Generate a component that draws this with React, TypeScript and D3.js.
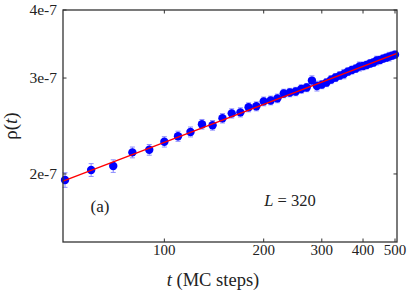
import React from "react";
import * as d3 from "d3";

const tValues = [50, 60, 70, 80, 90, 100, 110, 120, 130, 140, 150, 160, 170, 180, 190, 200, 210, 220, 230, 240, 250, 260, 270, 280, 290, 300, 310, 320, 330, 340, 350, 360, 370, 380, 390, 400, 410, 420, 430, 440, 450, 460, 470, 480, 490, 500];
const rhoValues = [1.950, 2.034, 2.068, 2.191, 2.215, 2.291, 2.346, 2.389, 2.468, 2.457, 2.531, 2.584, 2.595, 2.651, 2.662, 2.718, 2.729, 2.753, 2.811, 2.822, 2.834, 2.864, 2.882, 2.968, 2.900, 2.918, 2.943, 2.980, 3.006, 3.031, 3.051, 3.083, 3.103, 3.122, 3.150, 3.156, 3.170, 3.190, 3.203, 3.230, 3.237, 3.257, 3.270, 3.284, 3.298, 3.312].map((v) => v * 1e-7);
const rhoErrors = [0.06, 0.055, 0.055, 0.05, 0.05, 0.05, 0.05, 0.05, 0.05, 0.05, 0.05, 0.05, 0.05, 0.05, 0.05, 0.05, 0.05, 0.05, 0.05, 0.05, 0.05, 0.05, 0.05, 0.06, 0.06, 0.05, 0.05, 0.05, 0.05, 0.05, 0.06, 0.05, 0.05, 0.05, 0.06, 0.05, 0.05, 0.05, 0.05, 0.06, 0.05, 0.05, 0.05, 0.06, 0.05, 0.05].map((v) => v * 1e-7);
const fitT = [49.3, 507];
const fitRho = [1.94e-7, 3.33e-7];
const xTicks = [100, 200, 300, 400, 500];
const yTicks = [2e-7, 3e-7, 4e-7];
const yTickLabels = ["2e-7", "3e-7", "4e-7"];

const W = 415;
const H = 291;
const M = { left: 63, right: 397, top: 10, bottom: 242 };
const FONT = "Liberation Serif, Times New Roman, Times, DejaVu Serif, serif";

export default function App() {
  const x = d3.scaleLog().domain([49.3, 507]).range([M.left, M.right]);
  const y = d3.scaleLog().domain([1.5e-7, 4e-7]).range([M.bottom, M.top]);
  const line = d3
    .line<number>()
    .x((_, i) => x(fitT[i]))
    .y((d) => y(d));
  const tick = 3.5;
  const ts = { fontFamily: FONT };
  return (
    <svg width={W} height={H} style={{ position: "absolute", left: 0, top: 0, fontFamily: FONT }}>
      <rect x={0} y={0} width={W} height={H} fill="#fff" />
      <g stroke="#8c8cff" strokeWidth={1}>
        {tValues.map((t, i) => {
          const cx = x(t);
          const y1 = y(rhoValues[i] - rhoErrors[i]);
          const y2 = y(rhoValues[i] + rhoErrors[i]);
          return (
            <g key={i}>
              <line x1={cx} x2={cx} y1={y1} y2={y2} />
              <line x1={cx - 2.5} x2={cx + 2.5} y1={y1} y2={y1} />
              <line x1={cx - 2.5} x2={cx + 2.5} y1={y2} y2={y2} />
            </g>
          );
        })}
      </g>
      <g fill="#0000ff">
        {tValues.map((t, i) => (
          <circle key={i} cx={x(t)} cy={y(rhoValues[i])} r={4.2} />
        ))}
      </g>
      <path d={line(fitRho) || ""} fill="none" stroke="#ff0000" strokeWidth={1.4} />
      <rect x={M.left} y={M.top} width={M.right - M.left} height={M.bottom - M.top} fill="none" stroke="#333" strokeWidth={1.3} />
      <g stroke="#333" strokeWidth={1}>
        {xTicks.map((t) => (
          <g key={t}>
            <line x1={x(t)} x2={x(t)} y1={M.bottom} y2={M.bottom - tick} />
            <line x1={x(t)} x2={x(t)} y1={M.top} y2={M.top + tick} />
          </g>
        ))}
        {yTicks.map((v) => (
          <g key={v}>
            <line x1={M.left} x2={M.left + tick} y1={y(v)} y2={y(v)} />
            <line x1={M.right} x2={M.right - tick} y1={y(v)} y2={y(v)} />
          </g>
        ))}
      </g>
      <g fontSize={15} fill="#222" textAnchor="middle">
        {xTicks.map((t) => (
          <text key={t} x={x(t)} y={255} style={ts}>
            {t}
          </text>
        ))}
      </g>
      <g fontSize={15.5} fill="#222" textAnchor="end">
        {yTicks.map((v, i) => (
          <text key={v} x={M.left - 6} y={y(v)} dy="0.35em" style={ts}>
            {yTickLabels[i]}
          </text>
        ))}
      </g>
      <text x={213} y={286} fontSize={18.5} textAnchor="middle" fill="#222" style={ts}>
        <tspan fontStyle="italic">t</tspan> (MC steps)
      </text>
      <text transform={`translate(17, ${(M.top + M.bottom) / 2}) rotate(-90)`} fontSize={19} textAnchor="middle" fill="#222" style={ts}>
        ρ(<tspan fontStyle="italic">t</tspan>)
      </text>
      <text x={100} y={212} fontSize={17} textAnchor="middle" fill="#222" style={ts}>
        (a)
      </text>
      <text x={290} y={206} fontSize={16.5} textAnchor="middle" fill="#222" style={ts}>
        <tspan fontStyle="italic">L</tspan> = 320
      </text>
    </svg>
  );
}
